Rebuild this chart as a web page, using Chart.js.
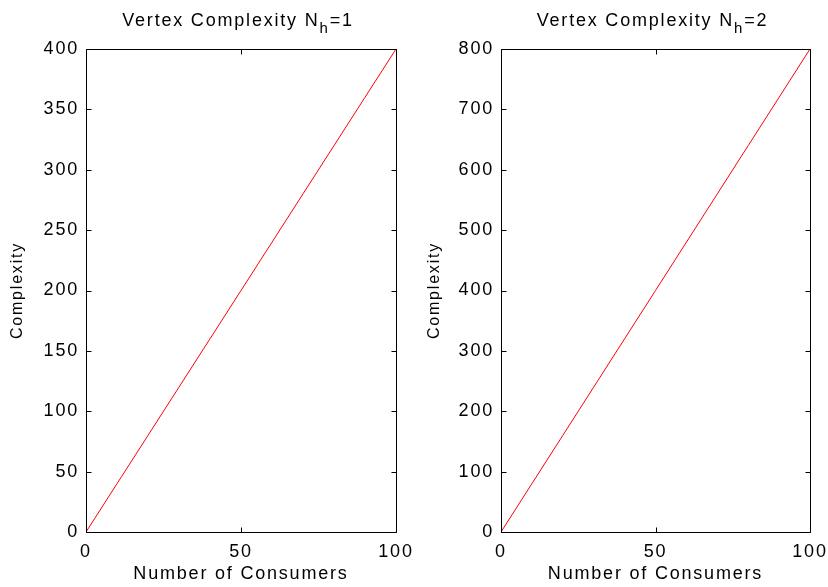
<!DOCTYPE html>
<html><head><meta charset="utf-8">
<script src="https://cdn.jsdelivr.net/npm/chart.js@4/dist/chart.umd.min.js"></script>
<style>
html,body{margin:0;padding:0;background:#fff;}
#wrap{position:relative;width:828px;height:587px;overflow:hidden;}
canvas{position:absolute;top:0;}
</style></head><body>
<div id="wrap">
<canvas id="c1" width="414" height="587" style="left:0px"></canvas>
<canvas id="c2" width="414" height="587" style="left:414px"></canvas>
</div>
<script>
// ---- data ----
const consumers      = [0, 10, 20, 30, 40, 50, 60, 70, 80, 90, 100];
const complexityNh1  = [0, 40, 80, 120, 160, 200, 240, 280, 320, 360, 400];
const complexityNh2  = [0, 80, 160, 240, 320, 400, 480, 560, 640, 720, 800];
const titleNh1 = ['Vertex Complexity N', 'h', '=1'];
const titleNh2 = ['Vertex Complexity N', 'h', '=2'];
const xLabel = 'Number of Consumers';
const yLabel = 'Complexity';
const xRange = [0, 100, 50];        // min, max, step
const yRangeNh1 = [0, 400, 50];
const yRangeNh2 = [0, 800, 100];

const FONT = '"Liberation Sans", Arial, Helvetica, sans-serif';

const spacingPlugin = {
  id: 'spacing',
  beforeDraw(chart) { chart.ctx.letterSpacing = '1.8px'; }
};

const boxPlugin = {
  id: 'box',
  afterDraw(chart) {
    const ctx = chart.ctx, a = chart.chartArea;
    const xs = chart.scales.x, ys = chart.scales.y;
    ctx.save();
    ctx.strokeStyle = '#000';
    ctx.lineWidth = 1;
    const L = Math.round(a.left) + 0.5, R = Math.round(a.right) + 0.5;
    const T = Math.round(a.top) + 0.5, B = Math.round(a.bottom) + 0.5;
    ctx.beginPath();
    ctx.rect(L, T, R - L, B - T);
    const tl = 5;
    xs.ticks.forEach(t => {
      const px = Math.round(xs.getPixelForValue(t.value)) + 0.5;
      ctx.moveTo(px, B); ctx.lineTo(px, B - tl);
      ctx.moveTo(px, T); ctx.lineTo(px, T + tl);
    });
    ys.ticks.forEach(t => {
      const py = Math.round(ys.getPixelForValue(t.value)) + 0.5;
      ctx.moveTo(L, py); ctx.lineTo(L + tl, py);
      ctx.moveTo(R, py); ctx.lineTo(R - tl, py);
    });
    ctx.stroke();
    ctx.restore();
  }
};

const titlePlugin = {
  id: 'subTitle',
  afterDraw(chart, args, opts) {
    const ctx = chart.ctx, a = chart.chartArea;
    const parts = opts.parts;
    ctx.save();
    ctx.letterSpacing = '1.8px';
    ctx.fillStyle = '#000';
    ctx.textBaseline = 'alphabetic';
    ctx.textAlign = 'left';
    const mainF = '18px ' + FONT, subF = '15px ' + FONT;
    ctx.font = mainF; const w0 = ctx.measureText(parts[0]).width;
    ctx.font = subF;  const w1 = ctx.measureText(parts[1]).width;
    ctx.font = mainF; const w2 = ctx.measureText(parts[2]).width;
    const total = w0 + w1 + w2;
    let x = (a.left + a.right) / 2 - 3 - total / 2;
    const base = 26;
    ctx.font = mainF; ctx.fillText(parts[0], x, base); x += w0;
    ctx.font = subF;  ctx.fillText(parts[1], x, base + 7); x += w1;
    ctx.font = mainF; ctx.fillText(parts[2], x, base);
    ctx.restore();
  }
};

function makeChart(id, yData, yRange, titleParts, yWidth, yTitlePad) {
  return new Chart(document.getElementById(id), {
    type: 'line',
    data: {
      datasets: [{
        data: consumers.map((c, i) => ({x: c, y: yData[i]})),
        borderColor: '#ff0000',
        borderWidth: 1,
        pointRadius: 0,
        tension: 0,
        fill: false
      }]
    },
    options: {
      responsive: false,
      devicePixelRatio: 1,
      animation: false,
      layout: { padding: { top: 49, right: 18, left: 0, bottom: 0 } },
      plugins: {
        legend: { display: false },
        title: { display: false },
        tooltip: { enabled: false },
        subTitle: { parts: titleParts }
      },
      scales: {
        x: {
          type: 'linear',
          min: xRange[0], max: xRange[1],
          grid: { display: false, drawTicks: false, tickLength: 0 },
          border: { display: false },
          ticks: { stepSize: xRange[2], color: '#000', padding: 9, autoSkip: false, maxRotation: 0,
                   font: { family: FONT, size: 18 } },
          title: { display: true, text: xLabel, color: '#000', padding: { top: 0, bottom: 2 },
                   font: { family: FONT, size: 18 } },
          afterFit(s) { s.height = 55; s.paddingLeft = 0; s.paddingRight = 0; }
        },
        y: {
          type: 'linear',
          min: yRange[0], max: yRange[1],
          grid: { display: false, drawTicks: false, tickLength: 0 },
          border: { display: false },
          ticks: { stepSize: yRange[2], color: '#000', padding: 7, autoSkip: false,
                   font: { family: FONT, size: 18 } },
          title: { display: true, text: yLabel, color: '#000', padding: { top: yTitlePad, bottom: 0 },
                   font: { family: FONT, size: 16 } },
          afterFit(s) { s.width = yWidth; s.paddingTop = 0; s.paddingBottom = 0; }
        }
      }
    },
    plugins: [spacingPlugin, boxPlugin, titlePlugin]
  });
}

makeChart('c1', complexityNh1, yRangeNh1, titleNh1, 86, 8);
makeChart('c2', complexityNh2, yRangeNh2, titleNh2, 87, 11);
</script>
</body></html>
